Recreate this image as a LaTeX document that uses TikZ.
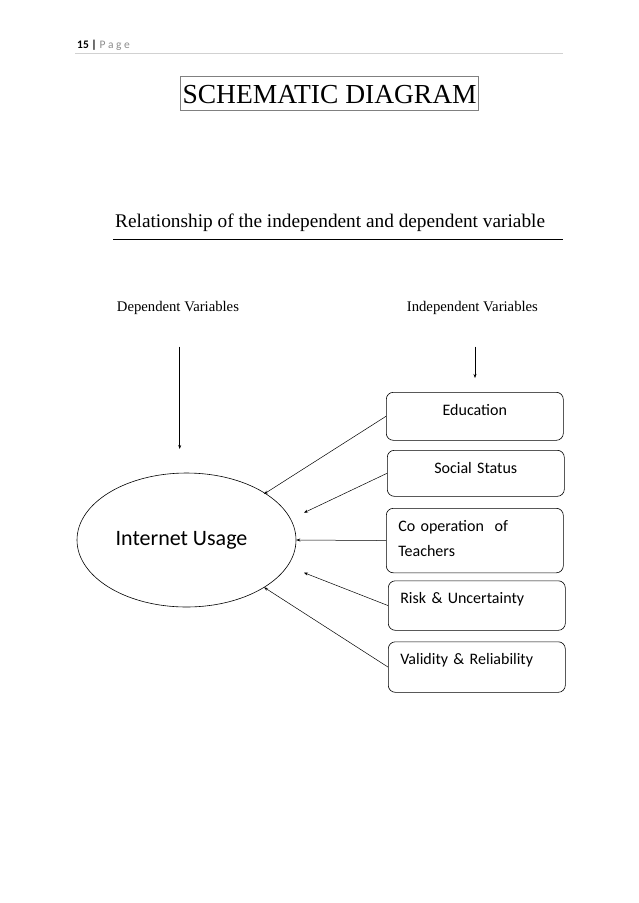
\documentclass[tikz,border=0pt]{standalone}
\usepackage{fontspec}
\setmainfont{Liberation Serif}
\newfontfamily\calibri{Carlito}
\usetikzlibrary{arrows.meta,shapes.geometric}
\definecolor{rulegray}{gray}{0.82}
\definecolor{pagegray}{gray}{0.55}

\begin{document}
\begin{tikzpicture}[%
      x=1pt, y=-1pt,
      varbox/.style={draw, rounded corners=7pt, line width=0.6pt, anchor=north west,
        inner xsep=12pt, inner ysep=0pt, text width=153pt,
        font=\calibri\fontsize{16}{25}\selectfont},
      pointer/.style={line width=0.5pt, -{Stealth[length=4pt,width=3pt]}},
      ]
      \useasboundingbox (0,0) rectangle (638,903);

      % page header
      \node [anchor=base west, inner sep=0pt, font=\calibri\fontsize{11.5}{13}\selectfont]
        (pagenum) at (77,48) {\textbf{15 |} \textcolor{pagegray}{P a g e}};
      \draw [color=rulegray, line width=0.5pt] (75,53.5) -- (563,53.5);

      % titles
      \node [draw=gray, line width=0.6pt, anchor=base, inner xsep=2pt, inner ysep=0pt,
        text height=26.6pt, text depth=6.7pt, font=\fontsize{27.5}{30}\selectfont]
        (title) at (329.6,103.3) {SCHEMATIC DIAGRAM};
      \node [anchor=base west, inner sep=0pt, font=\fontsize{19.3}{21}\selectfont]
        (relation) at (115,227.3) {Relationship of the independent and dependent variable};
      \draw [line width=0.8pt] (113,239.3) -- (563,239.3);

      \node [anchor=base west, inner sep=0pt, font=\fontsize{14.7}{16}\selectfont]
        (deplabel) at (116.7,311) {Dependent Variables};
      \node [anchor=base west, inner sep=0pt, font=\fontsize{14.7}{16}\selectfont]
        (indlabel) at (406.7,311) {Independent Variables};

      \coordinate (deptop) at (179.7,346.7);
      \coordinate (depend) at (179.7,449);
      \coordinate (indtop) at (475,346.7);
      \coordinate (indend) at (475,378);
      \draw [pointer] (deptop) -- (depend);
      \draw [pointer] (indtop) -- (indend);

      % dependent variable
      \node [draw, ellipse, line width=0.6pt, minimum width=219pt, minimum height=134pt,
        inner sep=0pt, font=\calibri\fontsize{22}{24}\selectfont]
        (usage) at (186.5,540) {Internet Usage\hspace*{10pt}};

      % independent variables
      \node [varbox, align=center, text height=23pt, text depth=25pt]
        (edu) at (386,392) {Education};
      \node [varbox, align=center, text height=23pt, text depth=23pt]
        (social) at (387,450) {Social Status};
      \node [varbox, align=left, text height=23pt, text depth=41.5pt]
        (coop) at (386,508) {Co operation\ \ of\\Teachers};
      \node [varbox, align=left, text height=22.5pt, text depth=27pt]
        (risk) at (388,580.5) {Risk \& Uncertainty};
      \node [varbox, align=left, text height=22.5pt, text depth=28pt]
        (valid) at (388,641.5) {Validity \& Reliability};

      \coordinate (eduhit) at (264,494);
      \coordinate (socialhit) at (304,512.7);
      \coordinate (riskhit) at (304,572.7);
      \coordinate (validhit) at (264,587.3);

      \draw [pointer] (edu.west) -- (eduhit);
      \draw [pointer] (social.west) -- (socialhit);
      \draw [pointer] (coop.west) -- (usage.east);
      \draw [pointer] (risk.west) -- (riskhit);
      \draw [pointer] (valid.west) -- (validhit);
\end{tikzpicture}
\end{document}
